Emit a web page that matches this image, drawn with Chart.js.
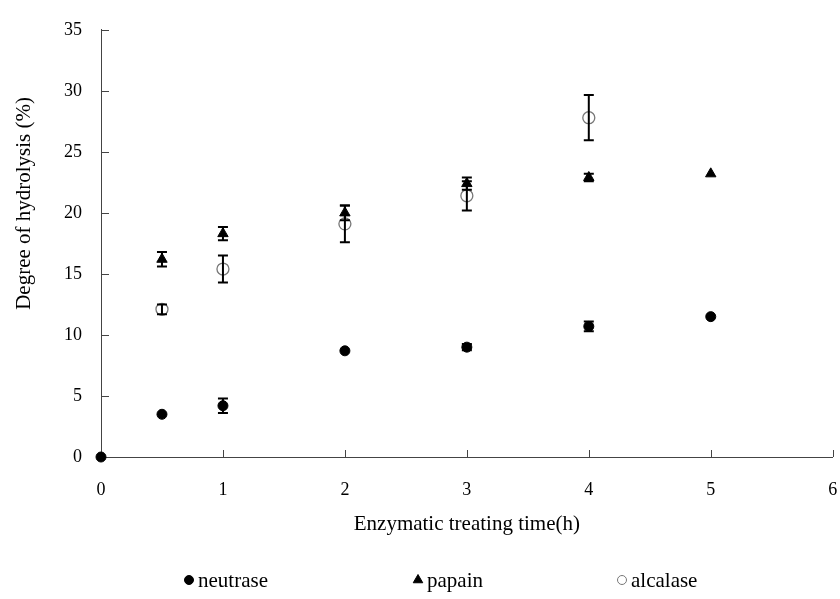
<!DOCTYPE html>
<html>
<head>
<meta charset="utf-8">
<script src="https://cdn.jsdelivr.net/npm/chart.js@4.4.1/dist/chart.umd.min.js"></script>
<style>
  html, body { margin: 0; padding: 0; background: #fff; }
  #wrap { width: 840px; height: 599px; }
</style>
</head>
<body>
<div id="wrap"><canvas id="dhChart"></canvas></div>
<script>
// values
const neutraseTime = [0, 0.5, 1, 2, 3, 4, 5];
const neutraseDH = [0, 3.5, 4.2, 8.7, 9.0, 10.7, 11.5];
const neutraseErr = [0, 0, 0.6, 0, 0.25, 0.4, 0];

const papainTime = [0.5, 1, 2, 3, 4, 5];
const papainDH = [16.2, 18.3, 20.0, 22.4, 22.9, 23.2];
const papainErr = [0.6, 0.55, 0.6, 0.5, 0.3, 0];

const alcalaseTime = [0.5, 1, 2, 3, 4];
const alcalaseDH = [12.1, 15.4, 19.1, 21.4, 27.8];
const alcalaseErr = [0.4, 1.1, 1.5, 1.2, 1.85];

const xTicks = [0, 1, 2, 3, 4, 5, 6];
const yTicks = [0, 5, 10, 15, 20, 25, 30, 35];

const serif = 'Liberation Serif';
const axisColor = '#444';

function toPoints(xs, ys) {
    return xs.map((x, i) => ({ x: x, y: ys[i] }));
}

// error bars drawn through the chart's own scales
const errorBars = {
    id: 'errorBars',
    afterDatasetsDraw(chart) {
        const { ctx, scales: { x, y } } = chart;
        ctx.save();
        ctx.strokeStyle = '#000';
        ctx.lineWidth = 2;
        chart.data.datasets.forEach((ds) => {
            ds.data.forEach((p, i) => {
                const e = ds.errors[i];
                if (!e) return;
                const px = x.getPixelForValue(p.x);
                const top = y.getPixelForValue(p.y + e);
                const bot = y.getPixelForValue(p.y - e);
                ctx.beginPath();
                ctx.moveTo(px, top); ctx.lineTo(px, bot);
                ctx.moveTo(px - 5, top); ctx.lineTo(px + 5, top);
                ctx.moveTo(px - 5, bot); ctx.lineTo(px + 5, bot);
                ctx.stroke();
            });
        });
        ctx.restore();
    }
};

// tick marks pointing into the plot
const insideTicks = {
    id: 'insideTicks',
    beforeDatasetsDraw(chart) {
        const { ctx, scales: { x, y } } = chart;
        ctx.save();
        ctx.strokeStyle = axisColor;
        ctx.lineWidth = 1;
        ctx.beginPath();
        xTicks.forEach((v) => {
            const px = Math.round(x.getPixelForValue(v)) + 0.5;
            ctx.moveTo(px, y.bottom); ctx.lineTo(px, y.bottom - 7);
        });
        yTicks.forEach((v) => {
            const py = Math.round(y.getPixelForValue(v)) + 0.5;
            ctx.moveTo(x.left, py); ctx.lineTo(x.left + 8, py);
        });
        ctx.stroke();
        ctx.restore();
    }
};

// y title sits a bit above the axis middle in the original
const yTitle = {
    id: 'yTitle',
    afterDraw(chart, args, opts) {
        const { ctx, scales: { y } } = chart;
        ctx.save();
        ctx.translate(opts.x, (y.top + y.bottom) / 2 - opts.lift);
        ctx.rotate(-Math.PI / 2);
        ctx.font = `${opts.fontSize}px "${serif}"`;
        ctx.textAlign = 'center';
        ctx.textBaseline = 'middle';
        ctx.fillStyle = '#000';
        ctx.fillText(opts.text, 0, 0);
        ctx.restore();
    }
};

// wide-spaced legend row under the axis title, like the original
const spacedLegend = {
    id: 'spacedLegend',
    afterDraw(chart, args, opts) {
        const { ctx } = chart;
        ctx.save();
        ctx.font = `${opts.fontSize}px "${serif}"`;
        ctx.textBaseline = 'middle';
        chart.data.datasets.forEach((ds, i) => {
            const sx = opts.x[i];
            ctx.fillStyle = ds.backgroundColor;
            ctx.strokeStyle = ds.borderColor;
            Chart.helpers.drawPoint(ctx, {
                pointStyle: ds.pointStyle,
                radius: opts.radius[i],
                borderWidth: ds.borderWidth,
                rotation: 0
            }, sx, opts.y);
            ctx.fillStyle = '#000';
            ctx.fillText(ds.label, sx + 9, opts.y + 1);
        });
        ctx.restore();
    }
};

new Chart(document.getElementById('dhChart'), {
    type: 'scatter',
    data: {
        datasets: [
            {
                label: 'neutrase',
                data: toPoints(neutraseTime, neutraseDH),
                errors: neutraseErr,
                pointStyle: 'circle',
                pointRadius: 5,
                backgroundColor: '#000',
                borderColor: '#000',
                borderWidth: 1,
                clip: false
            },
            {
                label: 'papain',
                data: toPoints(papainTime, papainDH),
                errors: papainErr,
                pointStyle: 'triangle',
                pointRadius: 6,
                backgroundColor: '#000',
                borderColor: '#000',
                borderWidth: 1,
                clip: false
            },
            {
                label: 'alcalase',
                data: toPoints(alcalaseTime, alcalaseDH),
                errors: alcalaseErr,
                pointStyle: 'circle',
                pointRadius: 6,
                backgroundColor: 'rgba(0,0,0,0)',
                borderColor: '#777',
                borderWidth: 1.3,
                clip: false
            }
        ]
    },
    options: {
        responsive: true,
        maintainAspectRatio: false,
        animation: false,
        layout: { padding: { top: 20, right: 7, left: 0, bottom: 62 } },
        plugins: {
            tooltip: { enabled: false },
            legend: { display: false },
            yTitle: { text: 'Degree of hydrolysis (%)', x: 24, lift: 40, fontSize: 21 },
            spacedLegend: { x: [189, 418, 622], y: 580, radius: [4.5, 5.5, 4.5], fontSize: 21 }
        },
        scales: {
            x: {
                type: 'linear',
                min: 0,
                max: 6,
                afterFit: (scale) => {
                    scale.height = 80;
                    scale.paddingLeft = 0;
                    scale.paddingRight = 0;
                },
                afterBuildTicks: (scale) => { scale.ticks = xTicks.map(v => ({ value: v })); },
                grid: { display: false, drawTicks: false },
                border: { display: true, color: axisColor, width: 1 },
                ticks: { padding: 22, color: '#000', font: { family: serif, size: 18 } },
                title: {
                    display: true,
                    text: 'Enzymatic treating time(h)',
                    color: '#000',
                    font: { family: serif, size: 21 },
                    padding: { top: 0, bottom: 0 }
                }
            },
            y: {
                type: 'linear',
                min: 0,
                max: 35,
                afterFit: (scale) => { scale.width = 101; },
                afterBuildTicks: (scale) => { scale.ticks = yTicks.map(v => ({ value: v })); },
                grid: { display: false, drawTicks: false },
                border: { display: true, color: axisColor, width: 1 },
                ticks: { padding: 19, color: '#000', font: { family: serif, size: 18 } },
                title: { display: false }
            }
        }
    },
    plugins: [insideTicks, errorBars, yTitle, spacedLegend]
});
</script>
</body>
</html>
